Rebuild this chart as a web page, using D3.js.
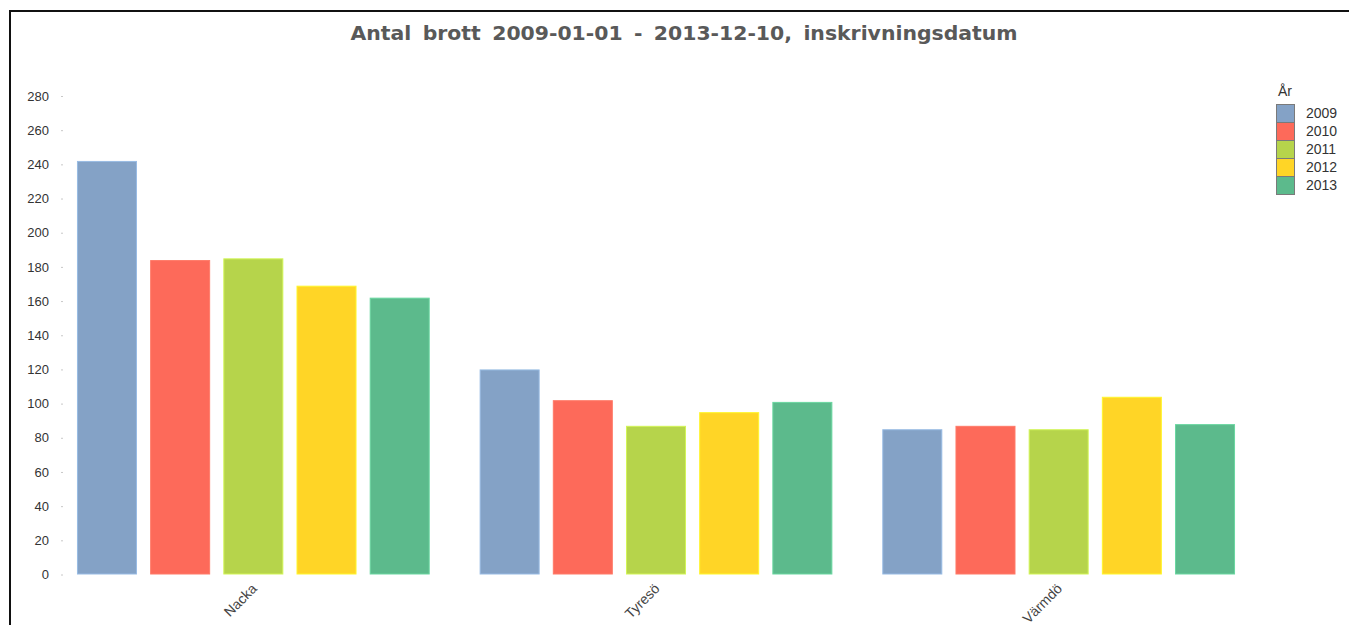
<!DOCTYPE html>
<html>
<head>
<meta charset="utf-8">
<script src="https://cdn.jsdelivr.net/npm/d3@7"></script>
<style>
  body { margin: 0; background: #fff; }
  svg { display: block; }
  .tick text { font-family: 'Liberation Sans', Arial, sans-serif; }
</style>
</head>
<body>
<div id="chart"></div>
<script>
const categories = ['Nacka', 'Tyresö', 'Värmdö']
const years = ['2009', '2010', '2011', '2012', '2013']
const values2009 = [242, 120, 85]
const values2010 = [184, 102, 87]
const values2011 = [185, 87, 85]
const values2012 = [169, 95, 104]
const values2013 = [162, 101, 88]
const yTicks = [0, 20, 40, 60, 80, 100, 120, 140, 160, 180, 200, 220, 240, 260, 280]
const colors = ['#84a2c6', '#fd6a5a', '#b6d44b', '#ffd526', '#5cba8c']

const series = [values2009, values2010, values2011, values2012, values2013]
const data = categories.map((c, i) => ({
  name: c,
  values: years.map((y, j) => ({ year: y, value: series[j][i] }))
}))

const width = 1349
const height = 625

const svg = d3.select('#chart')
  .append('svg')
  .attr('width', width)
  .attr('height', height)

// frame
svg.append('rect')
  .attr('x', 10)
  .attr('y', 11)
  .attr('width', 1400)
  .attr('height', 700)
  .attr('fill', '#fff')
  .attr('stroke', '#111')
  .attr('stroke-width', 2)

svg.append('text')
  .attr('x', 684)
  .attr('y', 40)
  .attr('text-anchor', 'middle')
  .attr('textLength', 667)
  .attr('lengthAdjust', 'spacingAndGlyphs')
  .style('font-family', "'DejaVu Sans', Verdana, sans-serif")
  .style('font-weight', 'bold')
  .style('font-size', '19px')
  .style('fill', '#595959')
  .style('word-spacing', '4px')
  .text('Antal brott 2009-01-01 - 2013-12-10, inskrivningsdatum')

const x0 = d3.scaleBand()
  .domain(categories)
  .range([52, 1260])
  .paddingInner(0.124)
  .paddingOuter(0.062)

const x1 = d3.scaleBand()
  .domain(years)
  .range([0, x0.bandwidth()])
  .paddingInner(0.18)

const y = d3.scaleLinear()
  .domain([0, 280])
  .range([574.5, 96])

const yAxis = svg.append('g')
  .attr('transform', 'translate(63,0)')
  .call(d3.axisLeft(y).tickValues(yTicks).tickSize(2).tickPadding(12))
yAxis.select('.domain').remove()
yAxis.selectAll('.tick line').attr('stroke', '#c8c8c8')
yAxis.selectAll('.tick text')
  .style('font-size', '13px')
  .style('fill', '#333')

const groups = svg.append('g')
  .selectAll('g')
  .data(data)
  .join('g')
  .attr('transform', d => `translate(${x0(d.name)},0)`)

groups.selectAll('rect')
  .data(d => d.values)
  .join('rect')
  .attr('x', d => x1(d.year) + 0.5)
  .attr('y', d => y(d.value) + 0.5)
  .attr('width', x1.bandwidth() - 1)
  .attr('height', d => y(0) - y(d.value) - 1)
  .attr('fill', (d, i) => colors[i])
  .attr('stroke', (d, i) => d3.color(colors[i]).brighter(0.4))
  .attr('stroke-width', 1)

// category labels, rotated
svg.append('g')
  .selectAll('text')
  .data(categories)
  .join('text')
  .attr('transform', d => `translate(${x0(d) + x0.bandwidth() / 2 + 1},${586}) rotate(-45)`)
  .attr('text-anchor', 'end')
  .attr('dy', '0.35em')
  .style('font-family', "'Liberation Sans', Arial, sans-serif")
  .style('font-size', '14px')
  .style('fill', '#444')
  .text(d => d)

// legend
const legend = svg.append('g').attr('transform', 'translate(1276,0)')
legend.append('text')
  .attr('x', 2)
  .attr('y', 96)
  .style('font-family', "'Liberation Sans', Arial, sans-serif")
  .style('font-size', '14px')
  .style('fill', '#333')
  .text('År')

const items = legend.selectAll('g.item')
  .data(years)
  .join('g')
  .attr('class', 'item')
  .attr('transform', (d, i) => `translate(0,${104 + i * 18})`)

items.append('rect')
  .attr('x', 0.5)
  .attr('y', 0.5)
  .attr('width', 18)
  .attr('height', 18)
  .attr('fill', (d, i) => colors[i])
  .attr('stroke', '#7a7a7a')
  .attr('stroke-width', 1)

items.append('text')
  .attr('x', 30)
  .attr('y', 9.5)
  .attr('dy', '0.35em')
  .style('font-family', "'Liberation Sans', Arial, sans-serif")
  .style('font-size', '14px')
  .style('fill', '#333')
  .text(d => d)
</script>
</body>
</html>
